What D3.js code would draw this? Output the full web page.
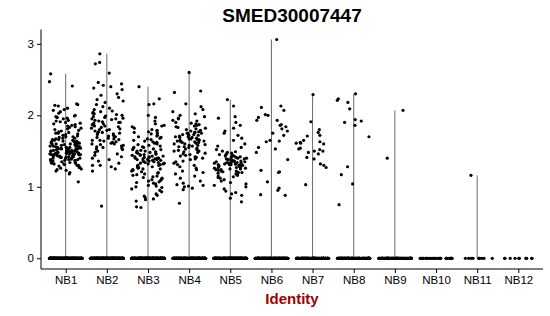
<!DOCTYPE html>
<html><head><meta charset="utf-8">
<script src="https://cdn.jsdelivr.net/npm/d3@7"></script>
<style>body{margin:0;background:#fff}svg{display:block}</style>
</head><body>
<script>
const categories = ["NB1","NB2","NB3","NB4","NB5","NB6","NB7","NB8","NB9","NB10","NB11","NB12"];
const yTicks = [0,1,2,3];
const title = "SMED30007447";
const xTitle = "Identity";
// maximum of each violin (expression)
const violinMax = [2.58,2.86,2.4,2.6,2.22,3.06,2.3,2.3,2.07,0,1.16,0];
// number of cells with zero expression per cluster
const zeroCounts = [320,320,300,260,260,200,150,150,120,30,10,10];
// non-zero expression values per cluster
const nb1 = [2.58,2.47,2.41,2.16,2.15,2.14,2.13,2.1,2.08,2.07,2.05,2.03,2.0,1.99,1.98,1.97,1.96,1.95,1.93,1.92,1.91,1.9,1.89,1.88,1.87,1.86,1.85,1.84,1.83,1.82,1.81,1.8,1.79,1.78,1.77,1.76,1.75,1.75,1.74,1.73,
1.72,1.71,1.7,1.7,1.69,1.68,1.68,1.67,1.66,1.66,1.65,1.65,1.64,1.64,1.63,1.63,1.62,1.62,1.61,1.61,1.6,1.6,1.6,1.59,1.59,1.58,1.58,1.58,1.57,1.57,1.57,1.56,1.56,1.56,1.55,1.55,1.55,1.55,1.54,1.54,1.54,1.53,1.53,1.53,1.53,1.52,1.52,1.52,1.51,1.51,1.51,1.5,1.5,1.5,1.5,1.49,1.49,1.49,1.48,1.48,1.48,1.47,1.47,1.47,1.47,1.46,1.46,1.46,1.45,1.45,1.45,1.45,1.44,1.44,1.44,1.43,1.43,1.43,1.42,1.42,1.42,1.41,1.41,1.41,1.4,1.4,1.4,1.39,1.39,1.38,1.38,1.38,1.37,1.37,1.36,1.36,1.35,1.35,1.34,1.34,1.33,1.33,1.32,1.32,1.31,1.3,1.3,1.29,1.28,1.27,1.26,1.25,1.24,1.23,1.22,1.2,1.18,1.07];
const nb2 = [2.86,2.74,2.72,2.59,2.46,2.44,2.42,2.4,2.38,2.36,2.3,2.28,2.25,2.22,2.2,2.18,2.15,2.12,2.1,2.08,2.06,2.05,2.04,2.03,2.02,2.01,2.0,1.99,1.98,1.97,1.96,1.95,1.94,1.93,1.92,1.91,1.9,1.89,1.88,1.87,1.86,1.85,1.84,1.83,1.82,1.81,1.8,1.79,1.78,1.77,1.76,1.75,1.74,1.73,1.72,1.71,1.7,1.69,1.68,1.67,1.66,1.65,1.64,1.63,1.62,1.61,1.6,1.59,1.58,1.57,1.56,1.55,1.54,1.53,1.52,1.5,1.48,1.46,1.44,1.42,1.4,1.38,1.36,1.33,1.3,1.3,1.28,1.25,1.22,0.73,1.95,1.9,1.85,1.8,1.75,1.7,1.65,1.6];
const nb3 = [2.4,2.23,2.16,2.15,2.0,1.97,1.92,1.88,1.86,1.85,1.84,1.82,1.8,1.79,1.78,1.77,1.76,1.75,1.74,1.72,1.71,1.7,1.69,1.68,1.67,1.66,1.65,1.64,1.63,1.62,1.61,1.6,1.59,1.58,1.57,1.56,1.55,1.55,1.54,1.53,1.52,1.52,1.51,1.5,1.5,1.49,1.48,1.48,1.47,1.46,1.46,1.45,1.45,1.44,1.44,1.43,1.43,1.42,1.42,1.41,1.41,1.4,1.4,1.4,1.39,1.39,1.38,1.38,1.38,1.37,1.37,1.36,1.36,1.35,1.35,1.34,1.34,1.33,1.33,1.32,1.32,1.31,1.3,1.3,1.29,1.28,1.28,1.27,1.26,1.25,1.25,1.24,1.23,1.22,1.21,1.2,1.19,1.18,1.17,1.16,1.15,1.14,1.13,1.12,1.11,1.1,1.09,1.08,1.07,1.06,1.05,1.04,1.02,1.01,1.0,0.99,0.97,0.95,0.93,0.9,0.88,0.87,0.85,0.83,0.82,0.8,0.72,0.71];
const nb4 = [2.6,2.34,2.32,2.16,2.12,2.08,2.05,2.02,2.0,1.98,1.96,1.95,1.93,1.92,1.9,1.89,1.88,1.87,1.86,1.85,1.84,1.83,1.82,1.81,1.8,1.79,1.78,1.77,1.76,1.76,1.75,1.75,1.74,1.73,1.73,1.72,1.72,1.71,1.7,1.7,1.69,1.69,1.68,1.67,1.67,1.66,1.66,1.65,1.65,1.64,1.64,1.63,1.63,1.62,1.62,1.61,1.6,1.6,1.59,1.58,1.58,1.57,1.56,1.56,1.55,1.54,1.53,1.52,1.51,1.5,1.5,1.49,1.48,1.47,1.46,1.45,1.44,1.43,1.42,1.41,1.4,1.39,1.38,1.36,1.35,1.33,1.31,1.3,1.28,1.26,1.24,1.22,1.2,1.18,1.15,1.12,1.08,1.05,1.03,1.02,1.01,1.0,0.98,0.96,0.77];
const nb5 = [2.22,2.13,1.98,1.96,1.9,1.86,1.82,1.78,1.75,1.72,1.68,1.65,1.6,1.57,1.55,1.52,1.5,1.49,1.48,1.47,1.46,1.45,1.45,1.44,1.43,1.43,1.42,1.41,1.41,1.4,1.4,1.39,1.39,1.38,1.38,1.37,1.37,1.36,1.36,1.36,1.35,1.35,1.35,1.34,1.34,1.34,1.33,1.33,1.33,1.32,1.32,1.32,1.31,1.31,1.31,1.3,1.3,1.3,1.29,1.29,1.28,1.28,1.27,1.27,1.26,1.26,1.25,1.25,1.24,1.24,1.23,1.22,1.22,1.21,1.2,1.2,1.19,1.18,1.17,1.16,1.15,1.14,1.13,1.12,1.1,1.08,1.06,1.04,1.02,1.0,0.97,0.94,0.92,0.9,0.88,0.84,0.79];
const nb6 = [3.06,2.13,2.11,2.07,2.01,2.0,1.97,1.93,1.93,1.87,1.86,1.84,1.81,1.78,1.75,1.72,1.65,1.64,1.63,1.55,1.53,1.48,1.38,1.23,1.21,1.2,1.07,0.98,0.95,0.89,0.88];
const nb7 = [2.29,1.91,1.8,1.76,1.72,1.71,1.65,1.63,1.62,1.61,1.61,1.6,1.54,1.53,1.52,1.5,1.5,1.48,1.46,1.41,1.39,1.32,1.3,1.27,1.03];
const nb8 = [2.3,2.23,2.21,2.18,2.09,1.94,1.92,1.9,1.86,1.7,1.28,1.17,1.04,0.75];
const nb9 = [2.07,1.4];
const nb10 = [];
const nb11 = [1.16];
const nb12 = [];
const values = [nb1,nb2,nb3,nb4,nb5,nb6,nb7,nb8,nb9,nb10,nb11,nb12];

const W = 550, H = 316;
const margin = {left:41, right:7, top:29.5, bottom:47};
const svg = d3.select("body").append("svg").attr("width",W).attr("height",H)
  .style("font-family","'Liberation Sans', Arial, sans-serif");

const x = d3.scalePoint().domain(categories)
  .range([margin.left, W - margin.right]).padding(0.6);
const step = x.step();
const y = d3.scaleLinear().domain([-0.15, 3.2]).range([H - margin.bottom, margin.top]);

// violins (degenerate: thin vertical lines)
svg.append("g").selectAll("line").data(categories.filter((c,i)=>violinMax[i]>0))
  .join("line")
  .attr("x1", c => x(c)).attr("x2", c => x(c))
  .attr("y1", y(0)).attr("y2", c => y(violinMax[categories.indexOf(c)]))
  .attr("stroke","#6a6a6a").attr("stroke-width",1);

// points with horizontal jitter (like geom_jitter, width 0.4)
const jit = d3.randomLcg(0.137);
const pts = [];
categories.forEach((c,i) => {
  for (let k=0;k<zeroCounts[i];k++) pts.push({c, v:0, j:(jit()-0.5)*0.8});
  values[i].forEach(v => pts.push({c, v, j:(jit()-0.5)*0.8}));
});
svg.append("g").selectAll("circle").data(pts).join("circle")
  .attr("cx", d => x(d.c) + d.j*step)
  .attr("cy", d => y(d.v))
  .attr("r", 1.6).attr("fill","#000");

// axes
const yAxis = svg.append("g").attr("transform",`translate(${margin.left},0)`)
  .call(d3.axisLeft(y).tickValues(yTicks).tickSize(4).tickPadding(3).tickFormat(d3.format("d")));
const xAxis = svg.append("g").attr("transform",`translate(0,${H - margin.bottom})`)
  .call(d3.axisBottom(x).tickSize(4).tickPadding(3));
[yAxis,xAxis].forEach(a => {
  a.select(".domain").attr("stroke","#000").attr("stroke-width",1);
  a.selectAll(".tick line").attr("stroke","#000");
  a.selectAll(".tick text").attr("fill","#000").style("font-size","11.5px")
    .style("font-family","'Liberation Sans', Arial, sans-serif");
});
yAxis.select(".domain").attr("d",`M0,${H - margin.bottom}V${margin.top}`);
xAxis.select(".domain").attr("d",`M${margin.left},0H${W - margin.right}`);

svg.append("text").attr("x",(margin.left + W - margin.right)/2).attr("y",22)
  .attr("text-anchor","middle").style("font-size","19px").style("font-weight","bold")
  .text(title);
svg.append("text").attr("x",(margin.left + W - margin.right)/2).attr("y",303.5)
  .attr("text-anchor","middle").style("font-size","15px").style("font-weight","bold")
  .attr("fill","#a00000").text(xTitle);
</script>
</body></html>
